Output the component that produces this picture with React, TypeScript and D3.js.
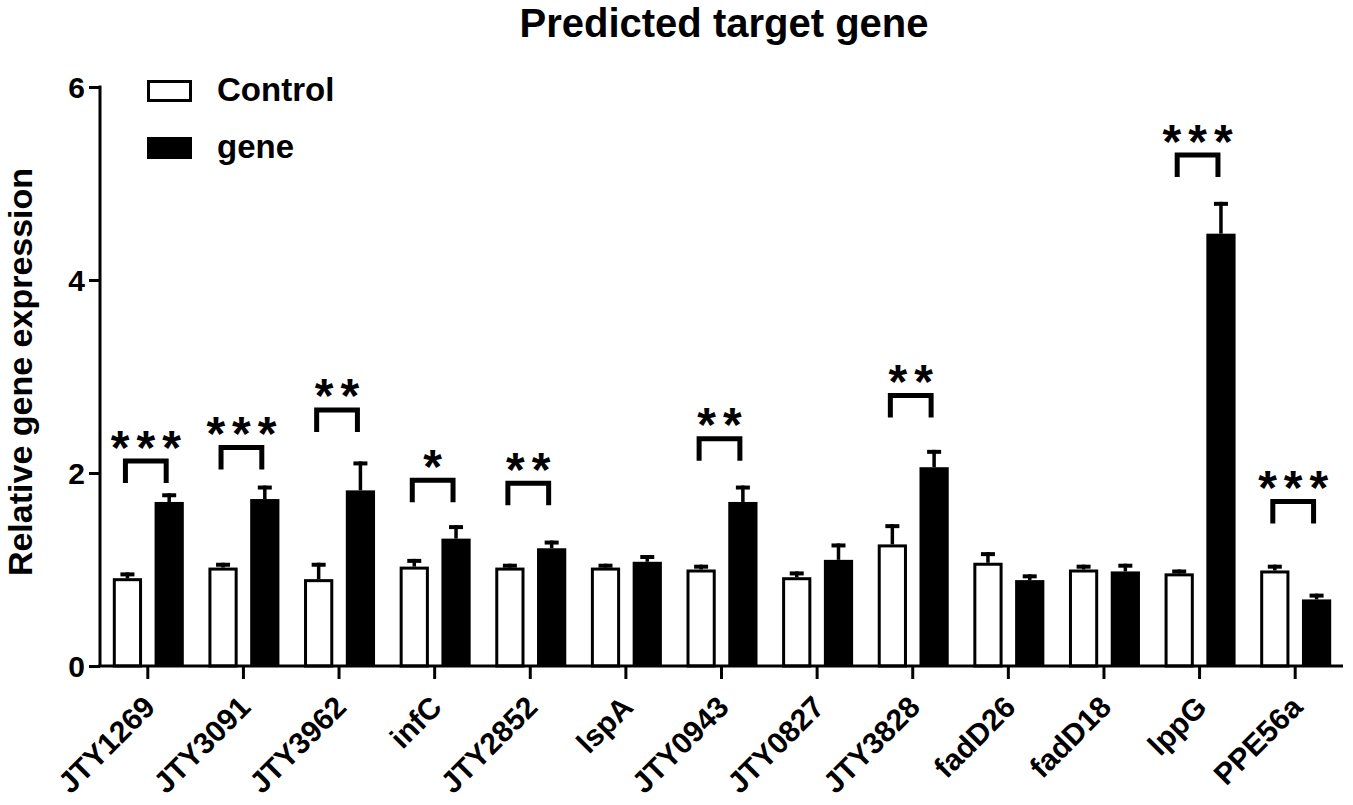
import React, { useEffect, useRef } from 'react';
import * as d3 from 'd3';

const categories = ['JTY1269', 'JTY3091', 'JTY3962', 'infC', 'JTY2852', 'lspA', 'JTY0943', 'JTY0827', 'JTY3828', 'fadD26', 'fadD18', 'lppG', 'PPE56a'];
const controlMean = [0.91, 1.02, 0.90, 1.03, 1.02, 1.02, 1.00, 0.92, 1.26, 1.07, 1.00, 0.96, 0.99];
const controlSem = [0.06, 0.05, 0.17, 0.08, 0.04, 0.04, 0.05, 0.06, 0.21, 0.11, 0.05, 0.04, 0.06];
const geneMean = [1.70, 1.73, 1.82, 1.32, 1.22, 1.08, 1.70, 1.10, 2.06, 0.89, 0.98, 4.48, 0.69];
const geneSem = [0.09, 0.14, 0.30, 0.14, 0.08, 0.07, 0.17, 0.17, 0.18, 0.06, 0.08, 0.33, 0.06];
const stars = ['***', '***', '**', '*', '**', '', '**', '', '**', '', '', '***', '***'];
const bracketLevel = [2.15, 2.29, 2.68, 1.95, 1.92, null, 2.38, null, 2.83, null, null, 5.32, 1.73];
const yTicks = [0, 2, 4, 6];
const groups = ['Control', 'gene'];

const FONT = '"Liberation Sans", Arial, Helvetica, sans-serif';

const App = () => {
  const ref = useRef(null);

  useEffect(() => {
    const svg = d3.select(ref.current);
    svg.selectAll('*').remove();

    const x = d3.scaleBand().domain(categories).range([100, 1343]).padding(0);
    const xSub = d3.scaleBand().domain(groups).range([-35, 36]).paddingInner(0.3);
    const y = d3.scaleLinear().domain([0, 6]).range([666, 87]);
    const bw = xSub.bandwidth();

    const rows = categories.map((c, i) => ({
      cat: c,
      cx: x(c) + x.bandwidth() / 2,
      vals: [
        { g: 'Control', v: controlMean[i], e: controlSem[i] },
        { g: 'gene', v: geneMean[i], e: geneSem[i] },
      ],
      star: stars[i],
      br: bracketLevel[i],
    }));

    // title
    svg.append('text')
      .attr('x', 724).attr('y', 37)
      .attr('text-anchor', 'middle')
      .attr('font-family', FONT).attr('font-weight', 'bold').attr('font-size', 40)
      .text('Predicted target gene');

    // y label
    svg.append('text')
      .attr('transform', 'translate(32,372) rotate(-90)')
      .attr('text-anchor', 'middle')
      .attr('font-family', FONT).attr('font-weight', 'bold').attr('font-size', 34)
      .text('Relative gene expression');

    // bars
    const grp = svg.append('g').selectAll('g').data(rows).enter().append('g');

    grp.selectAll('rect').data(d => d.vals.map(v => ({ ...v, cx: d.cx }))).enter().append('rect')
      .attr('x', d => d.cx + xSub(d.g) + (d.g === 'Control' ? 1.5 : 0))
      .attr('width', d => (d.g === 'Control' ? bw - 3 : bw))
      .attr('y', d => y(d.v) + (d.g === 'Control' ? 1.5 : 0))
      .attr('height', d => y(0) - y(d.v) - (d.g === 'Control' ? 1.5 : 0))
      .attr('fill', d => (d.g === 'Control' ? '#fff' : '#000'))
      .attr('stroke', d => (d.g === 'Control' ? '#000' : 'none'))
      .attr('stroke-width', 3);

    // error bars (upper only)
    const err = grp.selectAll('g.err').data(d => d.vals.map(v => ({ ...v, cx: d.cx }))).enter().append('g');
    err.append('line')
      .attr('x1', d => d.cx + xSub(d.g) + bw / 2)
      .attr('x2', d => d.cx + xSub(d.g) + bw / 2)
      .attr('y1', d => y(d.v))
      .attr('y2', d => y(d.v + d.e))
      .attr('stroke', '#000').attr('stroke-width', 3.5);
    err.append('line')
      .attr('x1', d => d.cx + xSub(d.g) + bw / 2 - 7)
      .attr('x2', d => d.cx + xSub(d.g) + bw / 2 + 7)
      .attr('y1', d => y(d.v + d.e) + 2)
      .attr('y2', d => y(d.v + d.e) + 2)
      .attr('stroke', '#000').attr('stroke-width', 4);

    // significance brackets
    const sig = rows.filter(d => d.br !== null);
    const left = d => d.cx + xSub('Control') + bw / 2 - 2;
    const right = d => d.cx + xSub('gene') + bw / 2 - 3;
    svg.append('g').selectAll('path').data(sig).enter().append('path')
      .attr('d', d => {
        const t = y(d.br) + 2.5;
        return `M${left(d)},${t + 22}V${t}H${right(d)}V${t + 22}`;
      })
      .attr('fill', 'none').attr('stroke', '#000').attr('stroke-width', 5)
      .attr('stroke-linejoin', 'miter');
    svg.append('g').selectAll('text').data(sig).enter().append('text')
      .attr('x', d => (left(d) + right(d)) / 2 + 3.5)
      .attr('y', d => y(d.br) + 5)
      .attr('text-anchor', 'middle')
      .attr('font-family', FONT).attr('font-weight', 'bold').attr('font-size', 48)
      .attr('letter-spacing', 7)
      .text(d => d.star);

    // y axis
    const yAxis = svg.append('g').attr('transform', 'translate(100,0)')
      .call(d3.axisLeft(y).tickValues(yTicks).tickFormat(d3.format('d')).tickSize(11).tickSizeOuter(0));
    yAxis.select('.domain').attr('stroke-width', 3).attr('d', `M0,${y(6) - 1.5}V${y(0)}`);
    yAxis.selectAll('.tick line').attr('stroke-width', 3);
    yAxis.selectAll('.tick text')
      .attr('font-family', FONT).attr('font-weight', 'bold').attr('font-size', 30)
      .attr('x', -15).attr('dy', '0.36em').attr('fill', '#000');

    // x axis
    const xAxis = svg.append('g').attr('transform', `translate(0,${y(0)})`)
      .call(d3.axisBottom(x).tickSize(13).tickSizeOuter(0));
    xAxis.select('.domain').attr('stroke-width', 3).attr('d', 'M98.5,0H1343');
    xAxis.selectAll('.tick line').attr('stroke-width', 3);
    xAxis.selectAll('.tick text')
      .attr('font-family', FONT).attr('font-weight', 'bold').attr('font-size', 30)
      .attr('fill', '#000')
      .attr('text-anchor', 'end')
      .attr('y', 0).attr('dy', 0)
      .attr('transform', 'translate(9,43) rotate(-45)');

    // legend
    const lg = svg.append('g');
    groups.forEach((g, i) => {
      const ly = 80 + i * 57;
      lg.append('rect')
        .attr('x', 148.5).attr('y', ly + 1.5).attr('width', 42).attr('height', 19)
        .attr('fill', g === 'Control' ? '#fff' : '#000')
        .attr('stroke', '#000').attr('stroke-width', 3);
      lg.append('text')
        .attr('x', 217).attr('y', ly + 21)
        .attr('font-family', FONT).attr('font-weight', 'bold').attr('font-size', 33)
        .text(g);
    });
  }, []);

  return (
    <svg ref={ref} width={1353} height={805}
      style={{ position: 'absolute', left: 0, top: 0, background: '#fff', display: 'block' }} />
  );
};

export default App;
